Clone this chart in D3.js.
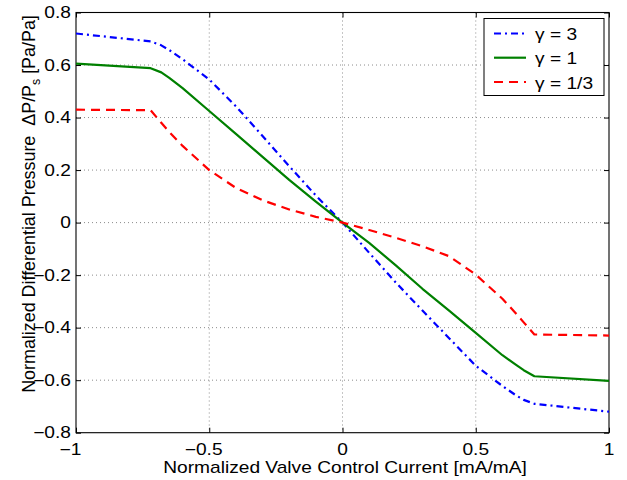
<!DOCTYPE html>
<html>
<head>
<meta charset="utf-8">
<script src="https://cdn.jsdelivr.net/npm/d3@7"></script>
<style>
html,body{margin:0;padding:0;background:#fff;}
svg{display:block;font-family:"Liberation Sans",Arial,Helvetica,sans-serif;}
</style>
</head>
<body>
<svg id="chart" width="627" height="480"></svg>
<script>
// ---- data ----
const xValues = [-1, -0.72, -0.68, -0.65, -0.6, -0.5, -0.4, -0.3, -0.2, -0.1, 0, 0.1, 0.2, 0.3, 0.4, 0.5, 0.6, 0.65, 0.68, 0.72, 1];
const gamma3 = [0.72, 0.69, 0.675, 0.657, 0.622, 0.545, 0.443, 0.33, 0.215, 0.103, 0, -0.115, -0.228, -0.335, -0.44, -0.545, -0.622, -0.657, -0.675, -0.69, -0.72];
const gamma1 = [0.605, 0.588, 0.572, 0.551, 0.512, 0.425, 0.338, 0.25, 0.163, 0.08, 0, -0.077, -0.163, -0.252, -0.335, -0.42, -0.505, -0.541, -0.562, -0.585, -0.603];
const gammaThird = [0.43, 0.428, 0.38, 0.345, 0.292, 0.20, 0.132, 0.085, 0.05, 0.022, 0, -0.028, -0.058, -0.09, -0.128, -0.198, -0.29, -0.345, -0.38, -0.426, -0.43];
const seriesNames = ["\u03b3 = 3", "\u03b3 = 1", "\u03b3 = 1/3"];
const xTicks = [-1, -0.5, 0, 0.5, 1];
const yTicks = [-0.8, -0.6, -0.4, -0.2, 0, 0.2, 0.4, 0.6, 0.8];
const xLabel = "Normalized Valve Control Current [mA/mA]";
const yLabelMain = "Normalized Differential Pressure\u00a0 \u0394P/P";
const yLabelSub = "s";
const yLabelEnd = " [Pa/Pa]";

// ---- layout ----
const L = 76, R = 609, T = 12.5, B = 432.7;
const FS = 16;
const svg = d3.select("#chart");
const x = d3.scaleLinear().domain([-1, 1]).range([L, R]);
const y = d3.scaleLinear().domain([-0.8, 0.8]).range([B, T]);
const absStr = v => String(+Math.abs(v).toFixed(2));

// x label first, to derive the horizontal glyph stretch of the figure
const xl = svg.append("text").attr("font-size", FS).attr("text-anchor", "middle").text(xLabel);
const K = 364 / xl.node().getComputedTextLength();
xl.attr("transform", `translate(345,473) scale(${K},1)`);

// grid
const grid = svg.append("g");
xTicks.filter(t => t > -1 && t < 1).forEach(t => {
  grid.append("line").attr("x1", x(t)).attr("x2", x(t)).attr("y1", T).attr("y2", B)
    .attr("stroke", "#8c8c8c").attr("stroke-width", 1).attr("stroke-dasharray", "1,3");
});
yTicks.filter(t => t > -0.8 && t < 0.8).forEach(t => {
  grid.append("line").attr("x1", L).attr("x2", R).attr("y1", y(t)).attr("y2", y(t))
    .attr("stroke", "#8c8c8c").attr("stroke-width", 1).attr("stroke-dasharray", "1,3");
});

// axis ticks (inward, on all four sides)
const tickStyle = g => { g.select(".domain").remove(); g.selectAll("line").attr("stroke", "#000"); g.selectAll("text").remove(); };
svg.append("g").attr("transform", `translate(0,${B})`).call(d3.axisBottom(x).tickValues(xTicks).tickSizeInner(-5).tickSizeOuter(0)).call(tickStyle);
svg.append("g").attr("transform", `translate(0,${T})`).call(d3.axisTop(x).tickValues(xTicks).tickSizeInner(-5).tickSizeOuter(0)).call(tickStyle);
svg.append("g").attr("transform", `translate(${L},0)`).call(d3.axisLeft(y).tickValues(yTicks).tickSizeInner(-5).tickSizeOuter(0)).call(tickStyle);
svg.append("g").attr("transform", `translate(${R},0)`).call(d3.axisRight(y).tickValues(yTicks).tickSizeInner(-5).tickSizeOuter(0)).call(tickStyle);

// y tick labels (right aligned)
yTicks.forEach(t => {
  svg.append("text").attr("font-size", FS).attr("text-anchor", "end")
    .attr("transform", `translate(71,${y(t) + 5.5}) scale(${K},1)`)
    .text((t < 0 ? "\u2212" : "") + absStr(t));
});
// x tick labels (digits centred, minus hanging left)
xTicks.forEach(t => {
  const num = svg.append("text").attr("font-size", FS).attr("text-anchor", "middle")
    .attr("transform", `translate(${x(t)},455) scale(${K},1)`).text(absStr(t));
  if (t < 0) {
    const w = num.node().getComputedTextLength() * K;
    svg.append("text").attr("font-size", FS).attr("text-anchor", "end")
      .attr("transform", `translate(${x(t) - w / 2},455) scale(${K},1)`).text("\u2212");
  }
});

// box
svg.append("rect").attr("x", L).attr("y", T).attr("width", R - L).attr("height", B - T)
  .attr("fill", "none").attr("stroke", "#000").attr("stroke-width", 1.1);

// lines
const styles = [
  {data: gamma3, color: "#0000ff", dash: "7,4,2,4"},
  {data: gamma1, color: "#008000", dash: null},
  {data: gammaThird, color: "#ff0000", dash: "9,6"}
];
const line = d3.line().x(d => x(d[0])).y(d => y(d[1])).curve(d3.curveLinear);
svg.append("clipPath").attr("id", "clip").append("rect")
  .attr("x", L).attr("y", T).attr("width", R - L).attr("height", B - T);
styles.forEach(s => {
  svg.append("path").attr("clip-path", "url(#clip)")
    .datum(xValues.map((xv, i) => [xv, s.data[i]]))
    .attr("d", line).attr("fill", "none").attr("stroke", s.color)
    .attr("stroke-width", 2.2).attr("stroke-linejoin", "round").attr("stroke-dasharray", s.dash);
});

// legend
const lg = svg.append("g");
lg.append("rect").attr("x", 484).attr("y", 18.5).attr("width", 120).attr("height", 77)
  .attr("fill", "#fff").attr("stroke", "#000").attr("stroke-width", 1);
const legY = [33.5, 57.7, 82];
styles.forEach((s, i) => {
  const yy = legY[i];
  lg.append("line").attr("x1", 494).attr("x2", 526).attr("y1", yy).attr("y2", yy)
    .attr("stroke", s.color).attr("stroke-width", 2.2).attr("stroke-dasharray", s.dash);
  lg.append("text").attr("font-size", FS)
    .attr("transform", `translate(535,${yy + 6.5}) scale(${K},1)`).text(seriesNames[i]);
});

// y label (rotated; glyph heights stretched like the rest of the figure)
const yl = svg.append("text").attr("text-anchor", "middle").attr("font-size", FS);
yl.append("tspan").text(yLabelMain);
yl.append("tspan").attr("font-size", 11).attr("dy", 4).text(yLabelSub);
yl.append("tspan").attr("dy", -4).text(yLabelEnd);
const yLen = yl.node().getComputedTextLength();
yl.attr("transform", `translate(35,204) scale(${K},${378 / yLen}) rotate(-90)`);
</script>
</body>
</html>
